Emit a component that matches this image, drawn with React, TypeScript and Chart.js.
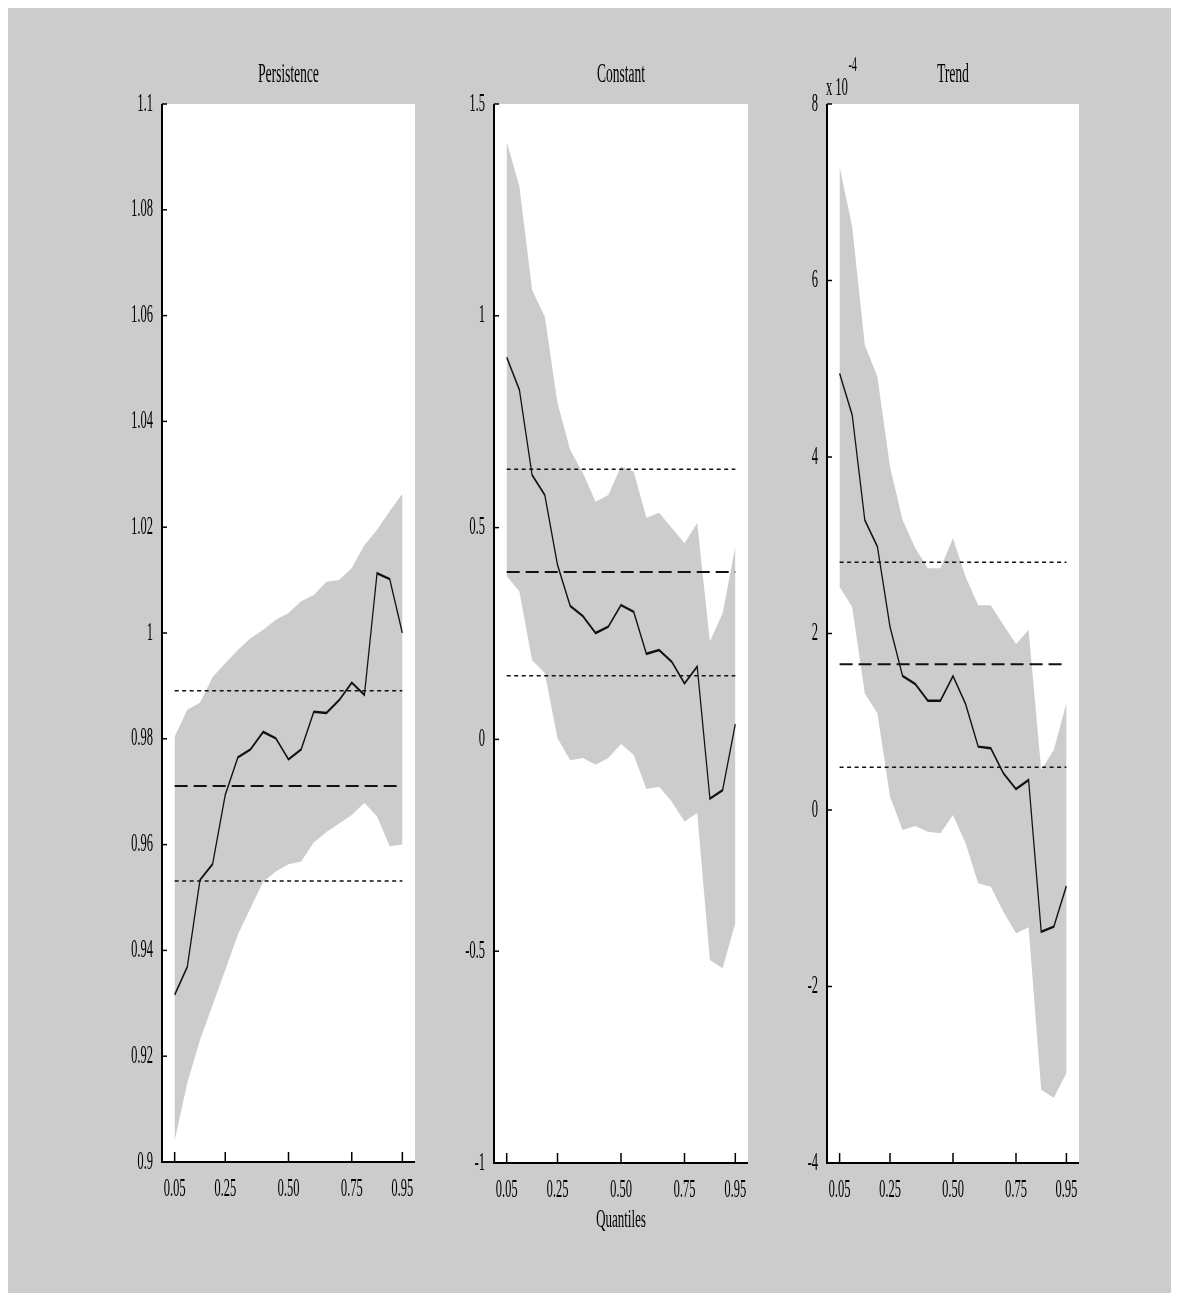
import React, { useEffect, useRef } from "react";
import { Chart, registerables } from "chart.js";

Chart.register(...registerables);

// ---------------- data ----------------
const quantiles = [0.05, 0.1, 0.15, 0.2, 0.25, 0.3, 0.35, 0.4, 0.45, 0.5, 0.55, 0.6, 0.65, 0.7, 0.75, 0.8, 0.85, 0.9, 0.95];
const xTickValues = [0.05, 0.25, 0.5, 0.75, 0.95];

// Persistence
const persistenceEstimate = [0.9316, 0.9369, 0.9533, 0.9563, 0.9694, 0.9765, 0.978, 0.9813, 0.9801, 0.9761, 0.978, 0.9851, 0.9849, 0.9873, 0.9906, 0.9883, 1.0113, 1.0102, 1.0];
const persistenceUpper = [0.9804, 0.9855, 0.9868, 0.9917, 0.9943, 0.9968, 0.999, 1.0006, 1.0025, 1.0038, 1.006, 1.0072, 1.0097, 1.01, 1.0123, 1.0166, 1.0195, 1.023, 1.0263];
const persistenceLower = [0.904, 0.915, 0.923, 0.9297, 0.9363, 0.943, 0.948, 0.953, 0.9549, 0.9563, 0.9568, 0.9604, 0.9624, 0.964, 0.9656, 0.9679, 0.9653, 0.9597, 0.96];
const persistenceOls = [0.9891, 0.9711, 0.9531]; // upper bound, point estimate, lower bound
const persistenceTicks = [0.9, 0.92, 0.94, 0.96, 0.98, 1, 1.02, 1.04, 1.06, 1.08, 1.1];

// Constant
const constantEstimate = [0.902, 0.825, 0.624, 0.577, 0.412, 0.315, 0.291, 0.251, 0.266, 0.317, 0.301, 0.202, 0.211, 0.183, 0.132, 0.172, -0.14, -0.12, 0.036];
const constantUpper = [1.411, 1.305, 1.061, 0.998, 0.794, 0.683, 0.629, 0.561, 0.577, 0.644, 0.632, 0.523, 0.535, 0.499, 0.463, 0.511, 0.231, 0.298, 0.455];
const constantLower = [0.386, 0.349, 0.187, 0.157, 0.003, -0.049, -0.044, -0.06, -0.044, -0.011, -0.037, -0.117, -0.112, -0.147, -0.194, -0.174, -0.521, -0.54, -0.434];
const constantOls = [0.638, 0.395, 0.15];
const constantTicks = [-1, -0.5, 0, 0.5, 1, 1.5];

// Trend (in units of 1e-4)
const trendEstimate = [4.948, 4.476, 3.286, 2.984, 2.077, 1.518, 1.428, 1.239, 1.239, 1.518, 1.201, 0.718, 0.699, 0.416, 0.238, 0.34, -1.38, -1.322, -0.861];
const trendUpper = [7.29, 6.61, 5.27, 4.91, 3.89, 3.286, 2.97, 2.74, 2.74, 3.08, 2.64, 2.32, 2.32, 2.096, 1.88, 2.04, 0.453, 0.68, 1.21];
const trendLower = [2.53, 2.3, 1.32, 1.096, 0.151, -0.227, -0.181, -0.246, -0.264, -0.057, -0.378, -0.831, -0.869, -1.152, -1.397, -1.33, -3.17, -3.26, -2.98];
const trendOls = [2.807, 1.651, 0.484];
const trendTicks = [-4, -2, 0, 2, 4, 6, 8];

// ---------------- styling / layout ----------------
const FONT = "'Liberation Serif', 'Times New Roman', Times, serif";
const SQUASH = 0.5; // horizontal compression of the figure
const BG = "#cccccc";
const BAND = "#cccccc";
const INK = "#111111";
const CANVAS_TOP = 30; // page y of canvases
const CANVAS_H = 1230;
const PLOT_TOP = 104;
const YAXIS_W = 60; // display px
const RIGHT_PAD = 20; // display px

Chart.defaults.font.family = FONT;
Chart.defaults.color = "#000";

const pts = (ys: number[]) => quantiles.map((q, i) => ({ x: q, y: ys[i] }));
const hline = (v: number) => [
  { x: quantiles[0], y: v },
  { x: quantiles[quantiles.length - 1], y: v },
];
const fmtY = (v: number) => String(+Number(v).toFixed(4));

const plotBg = {
  id: "plotBg",
  beforeDraw(chart: any) {
    const { ctx, chartArea } = chart;
    ctx.save();
    ctx.fillStyle = "#ffffff";
    ctx.fillRect(chartArea.left, chartArea.top, chartArea.right - chartArea.left, chartArea.bottom - chartArea.top);
    ctx.restore();
  },
};

const matlabAxes = {
  id: "matlabAxes",
  afterDraw(chart: any) {
    const { ctx, chartArea } = chart;
    const { left, right, top, bottom } = chartArea;
    const xs = chart.scales.x;
    const ys = chart.scales.y;
    ctx.save();
    ctx.strokeStyle = "#000";
    // y ticks (inward)
    ctx.lineWidth = 1.5;
    ys.ticks.forEach((t: any) => {
      const py = ys.getPixelForValue(t.value);
      ctx.beginPath();
      ctx.moveTo(left, py);
      ctx.lineTo(left + 10, py);
      ctx.stroke();
    });
    // x ticks (inward)
    ctx.lineWidth = 3;
    xs.ticks.forEach((t: any) => {
      const px = xs.getPixelForValue(t.value);
      ctx.beginPath();
      ctx.moveTo(px, bottom);
      ctx.lineTo(px, bottom - 10);
      ctx.stroke();
    });
    // axis lines
    ctx.lineWidth = 4;
    ctx.beginPath();
    ctx.moveTo(left, top);
    ctx.lineTo(left, bottom + 1);
    ctx.stroke();
    ctx.lineWidth = 2;
    ctx.beginPath();
    ctx.moveTo(left, bottom);
    ctx.lineTo(right, bottom);
    ctx.stroke();
    ctx.restore();
  },
};

type PanelProps = {
  title: string;
  estimate: number[];
  upper: number[];
  lower: number[];
  ols: number[];
  yTicks: number[];
  plotLeft: number;
  plotRight: number;
  plotBottom: number;
  xTitle?: string;
  exponent?: string;
};

function Panel(p: PanelProps) {
  const ref = useRef<HTMLCanvasElement>(null);
  const dispWidth = p.plotRight - p.plotLeft + YAXIS_W + RIGHT_PAD;
  const drawWidth = Math.round(dispWidth / SQUASH);
  const xAxisH = CANVAS_H - (p.plotBottom - CANVAS_TOP);

  useEffect(() => {
    const plugins: any[] = [plotBg, matlabAxes];
    if (p.exponent) {
      plugins.push({
        id: "exponentLabel",
        afterDraw(chart: any) {
          const { ctx, chartArea } = chart;
          ctx.save();
          ctx.fillStyle = "#000";
          ctx.textAlign = "left";
          ctx.textBaseline = "alphabetic";
          ctx.font = `25px ${FONT}`;
          ctx.fillText("x 10", chartArea.left - 2, 65);
          ctx.font = `20px ${FONT}`;
          ctx.fillText(p.exponent, chartArea.left + 43, 41);
          ctx.restore();
        },
      });
    }
    const dotted = { borderColor: INK, borderWidth: 1.5, borderDash: [8, 7], pointRadius: 0, fill: false, order: 1 };
    const chart = new Chart(ref.current as HTMLCanvasElement, {
      type: "line",
      data: {
        datasets: [
          { data: pts(p.lower), borderColor: "rgba(0,0,0,0)", borderWidth: 0, pointRadius: 0, fill: false, order: 3 },
          { data: pts(p.upper), borderColor: "rgba(0,0,0,0)", borderWidth: 0, pointRadius: 0, fill: "-1", backgroundColor: BAND, order: 2 },
          { data: hline(p.ols[0]), ...dotted },
          { data: hline(p.ols[1]), borderColor: INK, borderWidth: 2, borderDash: [26, 12], pointRadius: 0, fill: false, order: 1 },
          { data: hline(p.ols[2]), ...dotted },
          { data: pts(p.estimate), borderColor: INK, borderWidth: 2.5, pointRadius: 0, fill: false, tension: 0, order: 0 },
        ] as any,
      },
      options: {
        responsive: false,
        animation: false,
        devicePixelRatio: 1,
        events: [],
        layout: { padding: { left: 0, right: RIGHT_PAD / SQUASH, top: 0, bottom: 0 } },
        plugins: {
          legend: { display: false },
          tooltip: { enabled: false },
          title: {
            display: true,
            text: p.title,
            fullSize: false,
            color: "#000",
            font: { size: 27, family: FONT, weight: "normal", lineHeight: 1 },
            padding: { top: 31, bottom: PLOT_TOP - CANVAS_TOP - 31 - 27 },
          },
        },
        scales: {
          x: {
            type: "linear",
            min: 0,
            max: 1,
            grid: { display: false },
            border: { display: false },
            afterBuildTicks: (s: any) => {
              s.ticks = xTickValues.map((v) => ({ value: v }));
            },
            afterFit: (s: any) => {
              s.height = xAxisH;
            },
            ticks: {
              autoSkip: false,
              maxRotation: 0,
              minRotation: 0,
              padding: 4,
              color: "#000",
              font: { size: 25, family: FONT },
              callback: (v: any) => Number(v).toFixed(2),
            },
            title: {
              display: !!p.xTitle,
              text: p.xTitle || "",
              color: "#000",
              font: { size: 26, family: FONT },
              padding: { top: 0, bottom: 24 },
            },
          },
          y: {
            type: "linear",
            min: p.yTicks[0],
            max: p.yTicks[p.yTicks.length - 1],
            grid: { display: false },
            border: { display: false },
            afterBuildTicks: (s: any) => {
              s.ticks = p.yTicks.map((v) => ({ value: v }));
            },
            afterFit: (s: any) => {
              s.width = YAXIS_W / SQUASH;
            },
            ticks: {
              autoSkip: false,
              padding: 10,
              color: "#000",
              font: { size: 25, family: FONT },
              callback: (v: any) => fmtY(v),
            },
          },
        },
      } as any,
      plugins,
    });
    return () => chart.destroy();
  }, []);

  return (
    <div
      style={{
        position: "absolute",
        left: p.plotLeft - YAXIS_W - 8,
        top: CANVAS_TOP - 8,
        width: dispWidth,
        height: CANVAS_H,
      }}
    >
      <canvas
        ref={ref}
        width={drawWidth}
        height={CANVAS_H}
        style={{
          display: "block",
          width: drawWidth,
          height: CANVAS_H,
          transform: `scaleX(${SQUASH})`,
          transformOrigin: "0 0",
        }}
      />
    </div>
  );
}

export default function App() {
  return (
    <div
      style={{
        position: "relative",
        width: 1163,
        height: 1285,
        background: BG,
        overflow: "hidden",
      }}
    >
      <Panel
        title="Persistence"
        estimate={persistenceEstimate}
        upper={persistenceUpper}
        lower={persistenceLower}
        ols={persistenceOls}
        yTicks={persistenceTicks}
        plotLeft={162}
        plotRight={415}
        plotBottom={1162}
      />
      <Panel
        title="Constant"
        estimate={constantEstimate}
        upper={constantUpper}
        lower={constantLower}
        ols={constantOls}
        yTicks={constantTicks}
        plotLeft={494}
        plotRight={748}
        plotBottom={1163}
        xTitle="Quantiles"
      />
      <Panel
        title="Trend"
        estimate={trendEstimate}
        upper={trendUpper}
        lower={trendLower}
        ols={trendOls}
        yTicks={trendTicks}
        plotLeft={827}
        plotRight={1079}
        plotBottom={1163}
        exponent="-4"
      />
    </div>
  );
}
